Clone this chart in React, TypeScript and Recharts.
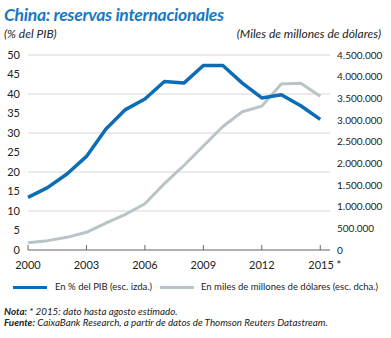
import { LineChart, Line, XAxis, YAxis, CartesianGrid } from 'recharts';

const years = [2000, 2001, 2002, 2003, 2004, 2005, 2006, 2007, 2008, 2009, 2010, 2011, 2012, 2013, 2014, 2015];
const pctPib = [13.5, 16, 19.5, 24, 31, 36, 38.7, 43.2, 42.8, 47.3, 47.3, 42.8, 39, 39.8, 37, 33.5];
const reservas = [168000, 216000, 292000, 409000, 619000, 822000, 1068000, 1531000, 1950000, 2400000, 2850000, 3190000, 3320000, 3830000, 3850000, 3550000];

const xTicks = [2000, 2003, 2006, 2009, 2012, 2015];
const leftTicks = [0, 5, 10, 15, 20, 25, 30, 35, 40, 45, 50];
const rightTicks = [0, 500000, 1000000, 1500000, 2000000, 2500000, 3000000, 3500000, 4000000, 4500000];

const BLUE = '#0b6db5';
const GRAY = '#b9c4c8';
const TXT = '#222';
const FONT = 'Lato, "Open Sans", sans-serif';

const data = years.map((y, i) => ({ year: y, pct: pctPib[i], usd: reservas[i] }));

const fmtMiles = (v: number) => v.toLocaleString('de-DE');

function YearTick(props: any) {
  const { x, y, payload } = props;
  const last = payload.value === 2015;
  return (
    <g>
      <line x1={x} x2={x} y1={y} y2={y - 5} stroke="#666" strokeWidth={1} />
      <text x={last ? x - 12 : x} y={y + 19} textAnchor={last ? 'start' : 'middle'} fontSize={11} fill={TXT} fontFamily={FONT}>
        {last ? '2015 *' : payload.value}
      </text>
    </g>
  );
}

export default function App() {
  return (
    <div style={{ position: 'absolute', left: 0, top: 0, width: 391, height: 338, background: '#fff', fontFamily: FONT, color: TXT }}>
      <div style={{ position: 'absolute', left: 4, top: 4, fontSize: 17.5, fontWeight: 700, fontStyle: 'italic', color: '#1a78c2', letterSpacing: -0.3, whiteSpace: 'nowrap' }}>
        China: reservas internacionales
      </div>
      <div style={{ position: 'absolute', left: 4, top: 26, fontSize: 12, fontStyle: 'italic', whiteSpace: 'nowrap' }}>
        (% del PIB)
      </div>
      <div style={{ position: 'absolute', right: 10, top: 26, fontSize: 12, fontStyle: 'italic', whiteSpace: 'nowrap' }}>
        (Miles de millones de dólares)
      </div>

      <div style={{ position: 'absolute', left: 0, top: 0 }}>
        <LineChart width={391} height={280} data={data} margin={{ top: 55, right: 0, bottom: 0, left: 0 }}>
          <CartesianGrid yAxisId="left" vertical={false} stroke="#d6d6d6" ticks={leftTicks} />
          <XAxis
            dataKey="year"
            type="number"
            domain={[2000, 2015.5]}
            ticks={xTicks}
            height={30}
            tickSize={0}
            tickMargin={0}
            tickLine={false}
            axisLine={{ stroke: '#777' }}
            tick={<YearTick />}
          />
          <YAxis
            yAxisId="left"
            orientation="left"
            domain={[0, 50]}
            ticks={leftTicks}
            width={28}
            tickSize={0}
            tickMargin={8}
            axisLine={false}
            tickLine={false}
            tick={{ fontSize: 11, fill: TXT, fontFamily: FONT }}
          />
          <YAxis
            yAxisId="right"
            orientation="right"
            domain={[0, 4500000]}
            ticks={rightTicks}
            width={61}
            tickSize={0}
            tickMargin={7}
            axisLine={false}
            tickLine={false}
            tickFormatter={fmtMiles}
            tick={{ fontSize: 10, fill: TXT, fontFamily: FONT }}
          />
          <Line yAxisId="right" dataKey="usd" stroke={GRAY} strokeWidth={3} dot={false} isAnimationActive={false} strokeLinejoin="round" />
          <Line yAxisId="left" dataKey="pct" stroke={BLUE} strokeWidth={3.5} dot={false} isAnimationActive={false} strokeLinejoin="round" />
        </LineChart>
      </div>

      <div style={{ position: 'absolute', left: 13, top: 286, width: 34, height: 3, background: BLUE }} />
      <div style={{ position: 'absolute', left: 55, top: 281, fontSize: 9.5, whiteSpace: 'nowrap' }}>En % del PIB (esc. izda.)</div>
      <div style={{ position: 'absolute', left: 160, top: 286, width: 34, height: 3, background: GRAY }} />
      <div style={{ position: 'absolute', left: 201, top: 281, fontSize: 9.5, whiteSpace: 'nowrap' }}>En miles de millones de dólares (esc. dcha.)</div>

      <div style={{ position: 'absolute', left: 4, top: 306, fontSize: 9.8, fontStyle: 'italic', whiteSpace: 'nowrap', lineHeight: '11px' }}>
        <b>Nota:</b> * 2015: dato hasta agosto estimado.
      </div>
      <div style={{ position: 'absolute', left: 4, top: 317, fontSize: 9.8, fontStyle: 'italic', whiteSpace: 'nowrap', lineHeight: '11px' }}>
        <b>Fuente:</b> CaixaBank Research, a partir de datos de Thomson Reuters Datastream.
      </div>
    </div>
  );
}
